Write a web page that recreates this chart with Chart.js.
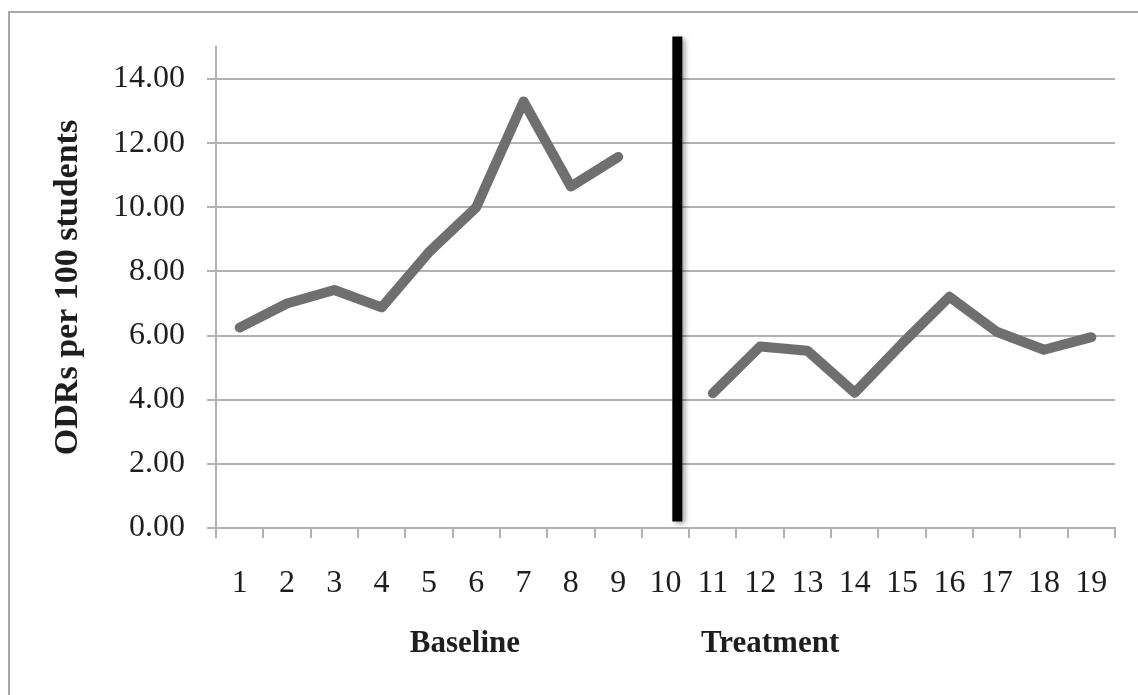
<!DOCTYPE html>
<html>
<head>
<meta charset="utf-8">
<title>ODRs per 100 students</title>
<script src="https://cdn.jsdelivr.net/npm/chart.js@4.4.1/dist/chart.umd.min.js"></script>
<style>
  html, body { margin: 0; padding: 0; background: #fff; }
  #wrap { width: 1138px; height: 695px; position: relative; overflow: hidden; }
  canvas { display: block; }
</style>
</head>
<body>
<div id="wrap"><canvas id="chart" width="1138" height="695"></canvas></div>
<script>
// Sessions on the category axis
const sessions = ['1','2','3','4','5','6','7','8','9','10','11','12','13','14','15','16','17','18','19'];

// ODRs per 100 students, baseline phase (sessions 1-9)
const baselineValues = [6.25, 7.0, 7.42, 6.88, 8.6, 10.0, 13.3, 10.65, 11.57, null,
                        null, null, null, null, null, null, null, null, null];

// ODRs per 100 students, treatment phase (sessions 11-19)
const treatmentValues = [null, null, null, null, null, null, null, null, null, null,
                         4.2, 5.66, 5.53, 4.22, 5.75, 7.21, 6.12, 5.56, 5.95];

// Value axis
const yRange = [0, 15];
const yStep = 2;

// Phase-change line: category position and vertical extent (in axis units)
const phaseChangeAt = 9.25;
const phaseLineSpan = [0.2, 15.33];

// Phase names and their category positions
const phaseNames = ['Baseline', 'Treatment'];
const phaseNameAt = [4.76, 11.21];

const FONT = '"Liberation Serif", "Times New Roman", serif';
const GRID = '#b2b2b2';
const SERIES = '#6f6f6f';
const TEXT = '#1e1e1e';

const framePlugin = {
  id: 'frame',
  beforeDraw(chart) {
    const ctx = chart.ctx;
    ctx.save();
    ctx.fillStyle = '#ffffff';
    ctx.fillRect(0, 0, chart.width, chart.height);
    ctx.strokeStyle = '#a8a8a8';
    ctx.lineWidth = 2;
    ctx.strokeRect(9, 12, chart.width + 20, chart.height + 20);
    ctx.restore();
  }
};

const phaseLinePlugin = {
  id: 'phaseLine',
  afterDatasetsDraw(chart) {
    const { ctx, scales: { x, y } } = chart;
    const px = x.getPixelForValue(phaseChangeAt);
    const top = y.getPixelForValue(phaseLineSpan[1]);
    const bottom = y.getPixelForValue(phaseLineSpan[0]);
    ctx.save();
    ctx.shadowColor = 'rgba(0,0,0,0.35)';
    ctx.shadowBlur = 5;
    ctx.shadowOffsetX = 3;
    ctx.shadowOffsetY = 2;
    ctx.strokeStyle = '#000000';
    ctx.lineWidth = 10;
    ctx.lineCap = 'butt';
    ctx.beginPath();
    ctx.moveTo(px, top);
    ctx.lineTo(px, bottom);
    ctx.stroke();
    ctx.restore();
  }
};

const phaseNamePlugin = {
  id: 'phaseNames',
  afterDraw(chart) {
    const { ctx, scales: { x } } = chart;
    ctx.save();
    ctx.font = 'bold 31px ' + FONT;
    ctx.fillStyle = TEXT;
    ctx.textAlign = 'center';
    ctx.textBaseline = 'alphabetic';
    phaseNames.forEach((name, i) => {
      ctx.fillText(name, x.getPixelForValue(phaseNameAt[i]), 652);
    });
    ctx.restore();
  }
};

const lineStyle = {
  borderColor: SERIES,
  backgroundColor: SERIES,
  borderWidth: 10,
  pointRadius: 0,
  pointHoverRadius: 0,
  tension: 0,
  fill: false,
  spanGaps: false,
  borderJoinStyle: 'round',
  borderCapStyle: 'round'
};

new Chart(document.getElementById('chart'), {
  type: 'line',
  data: {
    labels: sessions,
    datasets: [
      Object.assign({ label: 'Baseline', data: baselineValues }, lineStyle),
      Object.assign({ label: 'Treatment', data: treatmentValues }, lineStyle)
    ]
  },
  options: {
    responsive: false,
    devicePixelRatio: 1,
    animation: false,
    layout: { padding: { top: 47, right: 23, left: 0, bottom: 0 } },
    plugins: {
      legend: { display: false },
      tooltip: { enabled: false }
    },
    scales: {
      x: {
        type: 'category',
        offset: true,
        grid: {
          display: true,
          offset: true,
          drawOnChartArea: false,
          drawTicks: true,
          tickLength: 10,
          color: GRID,
          lineWidth: 2
        },
        border: { display: true, color: GRID, width: 2 },
        ticks: {
          autoSkip: false,
          maxRotation: 0,
          minRotation: 0,
          padding: 26,
          color: TEXT,
          font: { family: FONT, size: 32 }
        },
        afterFit(scale) { scale.height = 167; }
      },
      y: {
        type: 'linear',
        min: yRange[0],
        max: yRange[1],
        grid: {
          color: GRID,
          lineWidth: 2,
          tickLength: 9,
          drawTicks: true
        },
        border: { display: true, color: GRID, width: 2 },
        ticks: {
          stepSize: yStep,
          includeBounds: false,
          padding: 22,
          color: TEXT,
          font: { family: FONT, size: 32 },
          callback: (v) => Number(v).toFixed(2)
        },
        title: {
          display: true,
          text: 'ODRs per 100 students',
          color: TEXT,
          font: { family: FONT, size: 34, weight: 'bold' },
          padding: { top: 48, bottom: 0 }
        },
        afterFit(scale) { scale.width = 216; }
      }
    }
  },
  plugins: [framePlugin, phaseLinePlugin, phaseNamePlugin]
});
</script>
</body>
</html>
